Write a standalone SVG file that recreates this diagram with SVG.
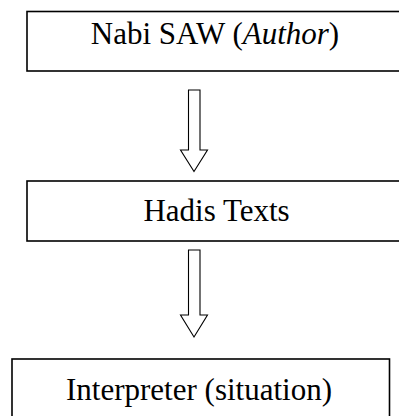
<svg xmlns="http://www.w3.org/2000/svg" width="399" height="416" viewBox="0 0 399 416">
<style>
.box{fill:#fff;stroke:#000;stroke-width:1.6}
.arr{fill:#fff;stroke:#000;stroke-width:1.1;stroke-linejoin:miter}
text{font-family:"Liberation Serif","Times New Roman",serif;font-size:31px;fill:#000;text-anchor:middle}
</style>
<rect width="399" height="416" fill="#fff"/>
<g id="connectors">
<polygon class="arr" points="188.5,90 200,90 200,150 207.5,150 194,171.5 180.5,150 188.5,150"/>
<polygon class="arr" points="188.5,250 200,250 200,315 207.5,315 194,337 180.5,315 188.5,315"/>
</g>
<g id="node-author">
<rect class="box" x="27" y="11.5" width="380" height="59.5"/>
<text x="215" y="43.5">Nabi SAW (<tspan font-style="italic">Author</tspan>)</text>
</g>
<g id="node-hadis">
<rect class="box" x="27" y="181" width="380" height="60"/>
<text x="216.5" y="220.5">Hadis Texts</text>
</g>
<g id="node-interpreter">
<rect class="box" x="12" y="359" width="377.5" height="80"/>
<text x="199" y="400">Interpreter (situation)</text>
</g>
</svg>
